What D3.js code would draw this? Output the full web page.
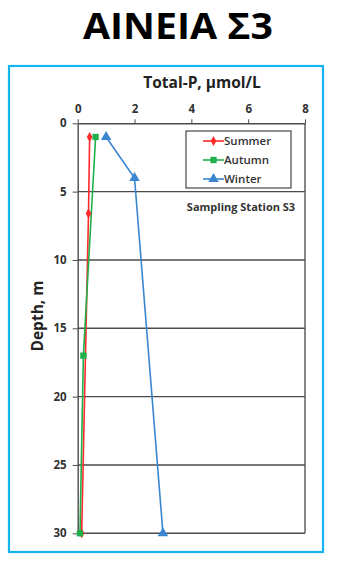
<!DOCTYPE html>
<html>
<head>
<meta charset="utf-8">
<script src="https://cdn.jsdelivr.net/npm/d3@7"></script>
<style>
  html, body { margin: 0; padding: 0; background: #fff; }
  svg { display: block; font-family: "Open Sans", "Noto Sans", sans-serif; }
</style>
</head>
<body>
<svg id="chart" width="347" height="563"></svg>
<script>
// Total phosphorus depth profiles, station S3
const xTicks = [0, 2, 4, 6, 8];
const yTicks = [0, 5, 10, 15, 20, 25, 30];
const seriesNames = ["Summer", "Autumn", "Winter"];
const seriesColors = ["#ff2a2a", "#1fb04a", "#3a86d0"];
const summerPts = [[0.42, 1], [0.38, 6.6], [0.14, 30]];
const autumnPts = [[0.63, 1], [0.2, 17], [0.08, 30]];
const winterPts = [[1.0, 1], [2.0, 4], [3.0, 30]];

const svg = d3.select("#chart");

// Page title
svg.append("text")
  .attr("x", 178).attr("y", 39)
  .attr("text-anchor", "middle")
  .attr("font-size", 36).attr("font-weight", 700)
  .attr("textLength", 190).attr("lengthAdjust", "spacingAndGlyphs")
  .attr("fill", "#000")
  .text("ΑΙΝΕΙΑ Σ3");

// Cyan frame around the chart
svg.append("rect")
  .attr("x", 9).attr("y", 66).attr("width", 314).attr("height", 486)
  .attr("fill", "none").attr("stroke", "#14b4ee").attr("stroke-width", 2.2);

const x = d3.scaleLinear().domain([0, 8]).range([77.7, 305]);
const y = d3.scaleLinear().domain([0, 30]).range([123.3, 533.3]);

// Horizontal gridlines
svg.append("g").selectAll("line").data(yTicks.slice(1))
  .join("line")
  .attr("x1", x(0)).attr("x2", x(8))
  .attr("y1", d => y(d)).attr("y2", d => y(d))
  .attr("stroke", "#4a4a4a").attr("stroke-width", 1.4);

// Plot box right border
svg.append("line").attr("x1", x(8)).attr("x2", x(8)).attr("y1", y(0)).attr("y2", y(30))
  .attr("stroke", "#555").attr("stroke-width", 1.4);

// Top axis
const xAxis = d3.axisTop(x).tickValues(xTicks).tickSize(4).tickPadding(6).tickSizeOuter(0);
const gx = svg.append("g").attr("transform", `translate(0,${y(0)})`).call(xAxis);
gx.select(".domain").attr("stroke", "#4a4a4a").attr("stroke-width", 1.4);
gx.selectAll(".tick line").attr("stroke", "#4a4a4a");
gx.selectAll("text").attr("font-size", 11.5).attr("font-weight", 700).attr("fill", "#333")
  .attr("font-family", "'Open Sans', sans-serif");

// Left axis
const yAxis = d3.axisLeft(y).tickValues(yTicks).tickSize(5).tickPadding(6).tickSizeOuter(0);
const gy = svg.append("g").attr("transform", `translate(${x(0)},0)`).call(yAxis);
gy.select(".domain").attr("stroke", "#4a4a4a").attr("stroke-width", 1.4);
gy.selectAll(".tick line").attr("stroke", "#4a4a4a");
gy.selectAll("text").attr("font-size", 11.5).attr("font-weight", 700).attr("fill", "#333")
  .attr("font-family", "'Open Sans', sans-serif");

// Axis titles
svg.append("text")
  .attr("x", 202).attr("y", 88)
  .attr("text-anchor", "middle")
  .attr("font-size", 15.5).attr("font-weight", 700).attr("fill", "#222")
  .text("Total-P, μmol/L");
svg.append("text")
  .attr("transform", "translate(43,316) rotate(-90)")
  .attr("text-anchor", "middle")
  .attr("font-size", 15.5).attr("font-weight", 700).attr("fill", "#222")
  .text("Depth, m");

// Series lines and markers
const line = d3.line().x(d => x(d[0])).y(d => y(d[1]));
const series = [summerPts, autumnPts, winterPts];
const shapes = [d3.symbolDiamond, d3.symbolSquare, d3.symbolTriangle];
const sizes = [28, 40, 48];

series.forEach((pts, i) => {
  svg.append("path").datum(pts)
    .attr("d", line).attr("fill", "none")
    .attr("stroke", seriesColors[i]).attr("stroke-width", 1.6);
});
series.forEach((pts, i) => {
  svg.append("g").selectAll("path").data(pts)
    .join("path")
    .attr("transform", d => `translate(${x(d[0])},${y(d[1])})`)
    .attr("d", d3.symbol().type(shapes[i]).size(sizes[i]))
    .attr("fill", seriesColors[i]);
});

// Legend
const legend = svg.append("g");
legend.append("rect")
  .attr("x", 186).attr("y", 131).attr("width", 105).attr("height", 57)
  .attr("fill", "#fff").attr("stroke", "#555").attr("stroke-width", 1.3);
seriesNames.forEach((name, i) => {
  const ly = 141 + i * 19;
  legend.append("line")
    .attr("x1", 203).attr("x2", 224).attr("y1", ly).attr("y2", ly)
    .attr("stroke", seriesColors[i]).attr("stroke-width", 1.6);
  legend.append("path")
    .attr("transform", `translate(213.5,${ly})`)
    .attr("d", d3.symbol().type(shapes[i]).size(sizes[i]))
    .attr("fill", seriesColors[i]);
  legend.append("text")
    .attr("x", 224).attr("y", ly + 4)
    .attr("font-size", 11.5).attr("font-weight", 600).attr("fill", "#333")
    .text(name);
});

// Station label
svg.append("text")
  .attr("x", 241).attr("y", 211)
  .attr("text-anchor", "middle")
  .attr("font-size", 11).attr("font-weight", 700).attr("fill", "#333")
  .text("Sampling Station S3");
</script>
</body>
</html>
